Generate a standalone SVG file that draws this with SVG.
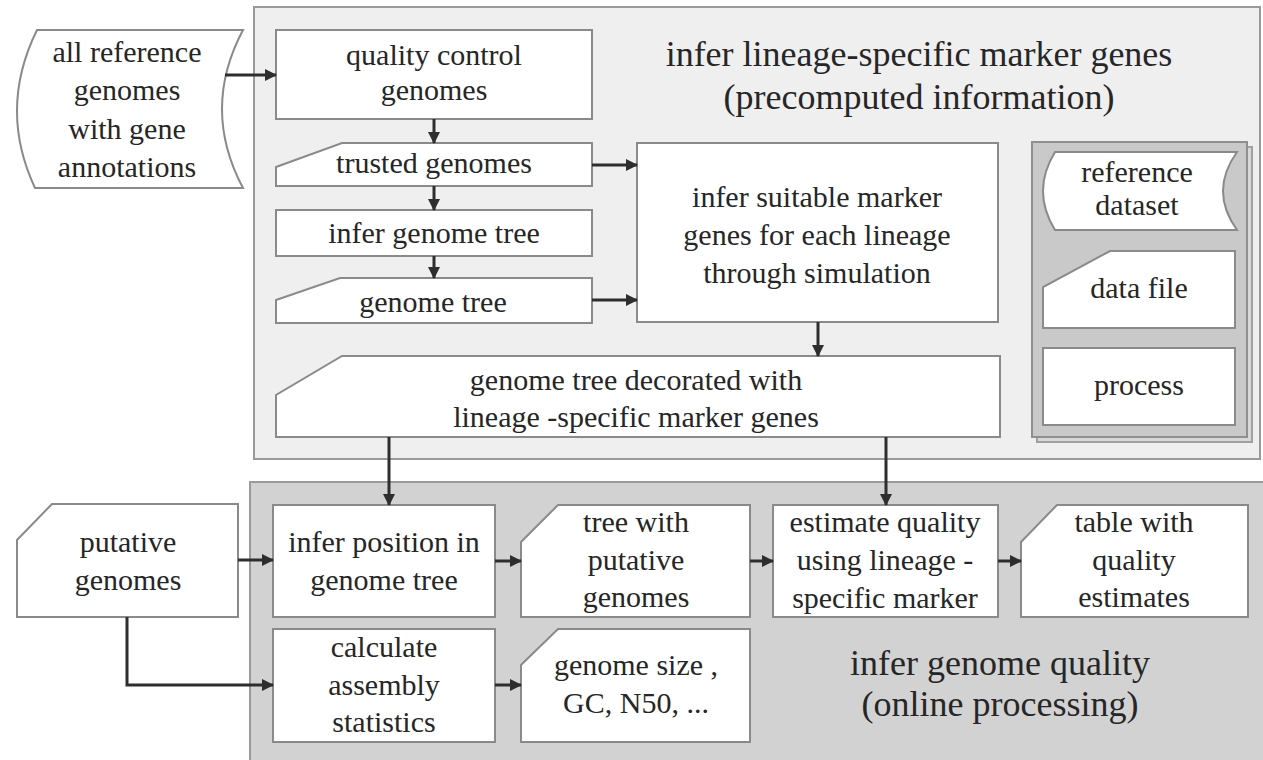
<svg xmlns="http://www.w3.org/2000/svg" width="1263" height="760" viewBox="0 0 1263 760">
<defs>
<marker id="ah" markerWidth="12" markerHeight="12" refX="11" refY="6" orient="auto" markerUnits="userSpaceOnUse">
<path d="M0,0 L12,6 L0,12 Z" fill="#2e2e2e"/>
</marker>
<style>
.panel1{fill:#efefef;stroke:#9a9a9a;stroke-width:2}
.panel2{fill:#d2d2d2;stroke:#9a9a9a;stroke-width:2}
.box{fill:#ffffff;stroke:#8a8a8a;stroke-width:2}
.c{fill:none;stroke:#2e2e2e;stroke-width:3;marker-end:url(#ah)}
text{font-family:'Liberation Serif',serif;fill:#262626;text-anchor:middle}
</style>
</defs>
<rect width="1263" height="760" fill="#ffffff"/>
<g id="panel-top">
<rect class="panel1" x="254" y="7" width="1006" height="452"/>
<text x="919" y="66" font-size="36">infer lineage-specific marker genes</text>
<text x="919" y="109" font-size="36">(precomputed information)</text>
</g>
<g id="panel-bottom">
<rect class="panel2" x="250" y="482" width="1020" height="290"/>
<text x="1000" y="675" font-size="36">infer genome quality</text>
<text x="1000" y="716" font-size="36">(online processing)</text>
</g>
<g id="legend">
<rect x="1037" y="147" width="215" height="295" fill="#d8d8d8" stroke="#a0a0a0" stroke-width="2"/>
<rect x="1032" y="142" width="215" height="295" fill="#c9c9c9" stroke="#8f8f8f" stroke-width="2"/>
<path class="box" d="M1055,152 L1237,152 Q1209,191 1237,230 L1055,230 Q1031,191 1055,152 Z"/>
<text x="1137" y="182" font-size="30">reference</text>
<text x="1137" y="215" font-size="30">dataset</text>
<path class="box" d="M1110,251 L1235,251 L1235,328 L1043,328 L1043,287 Z"/>
<text x="1139" y="298" font-size="30">data file</text>
<rect class="box" x="1043" y="348" width="192" height="77"/>
<text x="1139" y="395" font-size="30">process</text>
</g>
<g id="all-reference-genomes">
<path class="box" d="M37,30 L243,30 Q201,109 243,188 L35,188 Q-2,109 37,30 Z"/>
<text x="127" y="62" font-size="30">all reference</text>
<text x="127" y="100" font-size="30">genomes</text>
<text x="127" y="139" font-size="30">with gene</text>
<text x="127" y="177" font-size="30">annotations</text>
</g>
<g id="quality-control">
<rect class="box" x="276" y="30" width="316" height="89"/>
<text x="434" y="65" font-size="30">quality control</text>
<text x="434" y="100" font-size="30">genomes</text>
</g>
<g id="trusted-genomes">
<path class="box" d="M342,143 L592,143 L592,186 L276,186 L276,167 Z"/>
<text x="434" y="173" font-size="30">trusted genomes</text>
</g>
<g id="infer-genome-tree">
<rect class="box" x="276" y="210" width="316" height="46"/>
<text x="434" y="243" font-size="30">infer genome tree</text>
</g>
<g id="genome-tree">
<path class="box" d="M340,278 L592,278 L592,323 L276,323 L276,300 Z"/>
<text x="433" y="312" font-size="30">genome tree</text>
</g>
<g id="infer-suitable-markers">
<rect class="box" x="637" y="143" width="361" height="179"/>
<text x="817" y="207" font-size="30">infer suitable marker</text>
<text x="817" y="245" font-size="30">genes for each lineage</text>
<text x="817" y="283" font-size="30">through simulation</text>
</g>
<g id="decorated-tree">
<path class="box" d="M342,356 L1000,356 L1000,437 L276,437 L276,395 Z"/>
<text x="636" y="390" font-size="30">genome tree decorated with</text>
<text x="636" y="427" font-size="30">lineage -specific marker genes</text>
</g>
<g id="putative-genomes">
<path class="box" d="M52,504 L238,504 L238,617 L17,617 L17,540 Z"/>
<text x="128" y="552" font-size="30">putative</text>
<text x="128" y="590" font-size="30">genomes</text>
</g>
<g id="infer-position">
<rect class="box" x="273" y="505" width="222" height="112"/>
<text x="384" y="552" font-size="30">infer position in</text>
<text x="384" y="590" font-size="30">genome tree</text>
</g>
<g id="tree-with-putative">
<path class="box" d="M558,505 L750,505 L750,617 L521,617 L521,542 Z"/>
<text x="636" y="532" font-size="30">tree with</text>
<text x="636" y="570" font-size="30">putative</text>
<text x="636" y="607" font-size="30">genomes</text>
</g>
<g id="estimate-quality">
<rect class="box" x="773" y="505" width="225" height="112"/>
<text x="885" y="532" font-size="30">estimate quality</text>
<text x="885" y="570" font-size="30">using lineage -</text>
<text x="885" y="608" font-size="30">specific marker</text>
</g>
<g id="table-quality">
<path class="box" d="M1057,505 L1248,505 L1248,617 L1021,617 L1021,542 Z"/>
<text x="1134" y="532" font-size="30">table with</text>
<text x="1134" y="570" font-size="30">quality</text>
<text x="1134" y="607" font-size="30">estimates</text>
</g>
<g id="calculate-assembly">
<rect class="box" x="273" y="629" width="222" height="113"/>
<text x="384" y="657" font-size="30">calculate</text>
<text x="384" y="695" font-size="30">assembly</text>
<text x="384" y="732" font-size="30">statistics</text>
</g>
<g id="genome-size">
<path class="box" d="M558,629 L750,629 L750,742 L521,742 L521,665 Z"/>
<text x="636" y="675" font-size="30">genome size ,</text>
<text x="636" y="713" font-size="30">GC, N50, ...</text>
</g>
<g id="connectors">
<path class="c" d="M225,75 L276,75"/>
<path class="c" d="M434,119 L434,143"/>
<path class="c" d="M434,186 L434,210"/>
<path class="c" d="M434,256 L434,278"/>
<path class="c" d="M592,165 L637,165"/>
<path class="c" d="M592,300 L637,300"/>
<path class="c" d="M818,322 L818,356"/>
<path class="c" d="M389,437 L389,505"/>
<path class="c" d="M886,437 L886,505"/>
<path class="c" d="M238,560 L273,560"/>
<path class="c" d="M127,617 L127,685 L273,685"/>
<path class="c" d="M495,561 L521,561"/>
<path class="c" d="M750,561 L773,561"/>
<path class="c" d="M998,561 L1021,561"/>
<path class="c" d="M495,685 L521,685"/>
</g>
</svg>
